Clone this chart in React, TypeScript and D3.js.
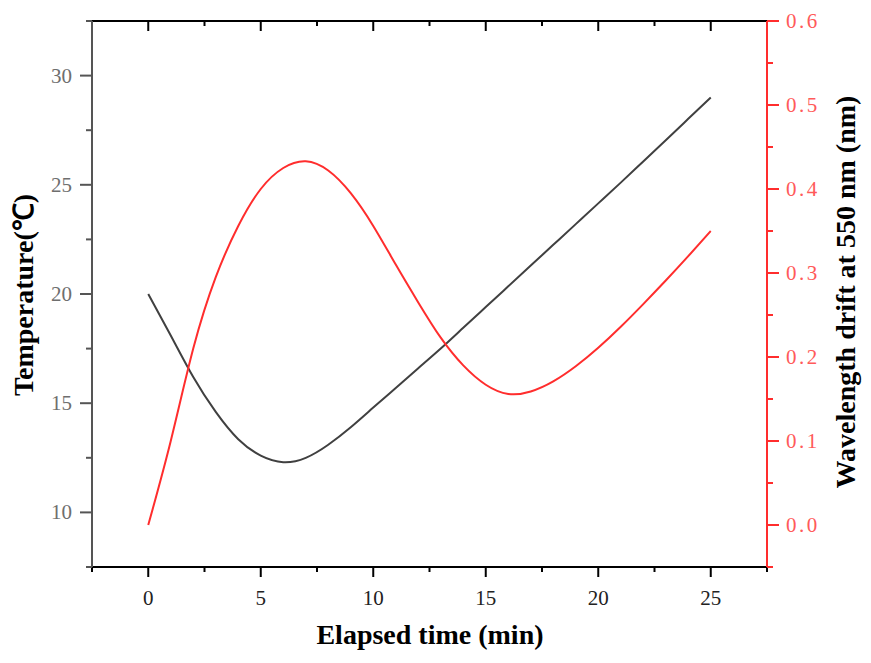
import React from "react";
import * as d3 from "d3";

const timeMin = [0, 1, 2, 3, 4, 5, 6, 7, 8, 9, 10, 11, 12, 13, 14, 15, 16, 17, 18, 19, 20, 21, 22, 23, 24, 25];
const temperature = [20, 18.1, 16.2, 14.6, 13.35, 12.6, 12.3, 12.5, 13.1, 13.9, 14.8, 15.7, 16.6, 17.5, 18.45, 19.4, 20.35, 21.3, 22.25, 23.2, 24.15, 25.1, 26.07, 27.04, 28.02, 29.0];
const drift = [0, 0.1, 0.21, 0.295, 0.356, 0.4, 0.425, 0.433, 0.422, 0.395, 0.356, 0.31, 0.265, 0.223, 0.19, 0.167, 0.156, 0.159, 0.171, 0.189, 0.211, 0.236, 0.263, 0.291, 0.32, 0.35];

const xTicks = [0, 5, 10, 15, 20, 25];
const xMinor = [-2.5, 2.5, 7.5, 12.5, 17.5, 22.5, 27.5];
const leftTicks = [10, 15, 20, 25, 30];
const leftMinor = [7.5, 12.5, 17.5, 22.5, 27.5, 32.5];
const rightTicks = [0, 0.1, 0.2, 0.3, 0.4, 0.5, 0.6];
const rightMinor = [-0.05, 0.05, 0.15, 0.25, 0.35, 0.45, 0.55];

const W = 871, H = 663;
const L = 92, R = 767, T = 21, B = 567;

const BLACK = "#404040";
const RED = "#ff2d2d";

export default function App() {
  const x = d3.scaleLinear().domain([-2.5, 27.5]).range([L, R]);
  const yL = d3.scaleLinear().domain([7.5, 32.5]).range([B, T]);
  const yR = d3.scaleLinear().domain([-0.05, 0.6]).range([B, T]);

  const lineT = d3.line<number>().x((_, i) => x(timeMin[i])).y((d) => yL(d)).curve(d3.curveNatural);
  const lineW = d3.line<number>().x((_, i) => x(timeMin[i])).y((d) => yR(d)).curve(d3.curveNatural);

  const font = "'Liberation Serif', 'Times New Roman', serif";

  return (
    <svg width={W} height={H} style={{ position: "absolute", left: 0, top: 0, background: "#fff" }}>
      {/* data lines */}
      <path d={lineT(temperature) || ""} fill="none" stroke={BLACK} strokeWidth={2} />
      <path d={lineW(drift) || ""} fill="none" stroke={RED} strokeWidth={2} />

      {/* top axis */}
      <line x1={L} x2={R} y1={T} y2={T} stroke="#000" strokeWidth={2} />
      {xTicks.map((t) => (
        <line key={"tt" + t} x1={x(t)} x2={x(t)} y1={T} y2={T + 10} stroke="#000" strokeWidth={2} />
      ))}
      {xMinor.map((t) => (
        <line key={"tm" + t} x1={x(t)} x2={x(t)} y1={T} y2={T + 5} stroke="#000" strokeWidth={2} />
      ))}

      {/* bottom axis */}
      <line x1={L - 1} x2={R} y1={B} y2={B} stroke="#000" strokeWidth={2} />
      {xTicks.map((t) => (
        <line key={"bt" + t} x1={x(t)} x2={x(t)} y1={B} y2={B + 10} stroke="#000" strokeWidth={2} />
      ))}
      {xMinor.map((t) => (
        <line key={"bm" + t} x1={x(t)} x2={x(t)} y1={B} y2={B + 5} stroke="#000" strokeWidth={2} />
      ))}
      {xTicks.map((t) => (
        <text key={"bl" + t} x={x(t)} y={B + 38} textAnchor="middle" fontFamily={font} fontSize={21} fill="#222">
          {t}
        </text>
      ))}

      {/* left axis */}
      <line x1={L} x2={L} y1={T} y2={B} stroke="#555" strokeWidth={2} />
      {leftTicks.map((t) => (
        <line key={"lt" + t} x1={L - 12} x2={L} y1={yL(t)} y2={yL(t)} stroke="#555" strokeWidth={2} />
      ))}
      {leftMinor.map((t) => (
        <line key={"lm" + t} x1={L - 6} x2={L} y1={yL(t)} y2={yL(t)} stroke="#555" strokeWidth={2} />
      ))}
      {leftTicks.map((t) => (
        <text key={"ll" + t} x={L - 20} y={yL(t) + 7} textAnchor="end" fontFamily={font} fontSize={21} fill="#6e6e6e">
          {t}
        </text>
      ))}

      {/* right axis */}
      <line x1={R} x2={R} y1={T} y2={B} stroke={RED} strokeWidth={2} />
      {rightTicks.map((t) => (
        <line key={"rt" + t} x1={R} x2={R + 12} y1={yR(t)} y2={yR(t)} stroke={RED} strokeWidth={2} />
      ))}
      {rightMinor.map((t) => (
        <line key={"rm" + t} x1={R} x2={R + 6} y1={yR(t)} y2={yR(t)} stroke={RED} strokeWidth={2} />
      ))}
      {rightTicks.map((t) => (
        <text key={"rl" + t} x={R + 19} y={yR(t) + 7} textAnchor="start" fontFamily={font} fontSize={21} letterSpacing={2.5} fill="#ff5a5a">
          {d3.format(".1f")(t)}
        </text>
      ))}

      {/* axis titles */}
      <text x={430} y={644} textAnchor="middle" fontFamily={font} fontWeight="bold" fontSize={28} fill="#000">
        Elapsed time (min)
      </text>
      <text transform={`translate(33,295) rotate(-90)`} textAnchor="middle" fontFamily={font} fontWeight="bold" fontSize={28} fill="#000">
        Temperature(℃)
      </text>
      <text transform={`translate(855,292) rotate(-90)`} textAnchor="middle" fontFamily={font} fontWeight="bold" fontSize={28} fill="#000">
        Wavelength drift at 550 nm (nm)
      </text>
    </svg>
  );
}
